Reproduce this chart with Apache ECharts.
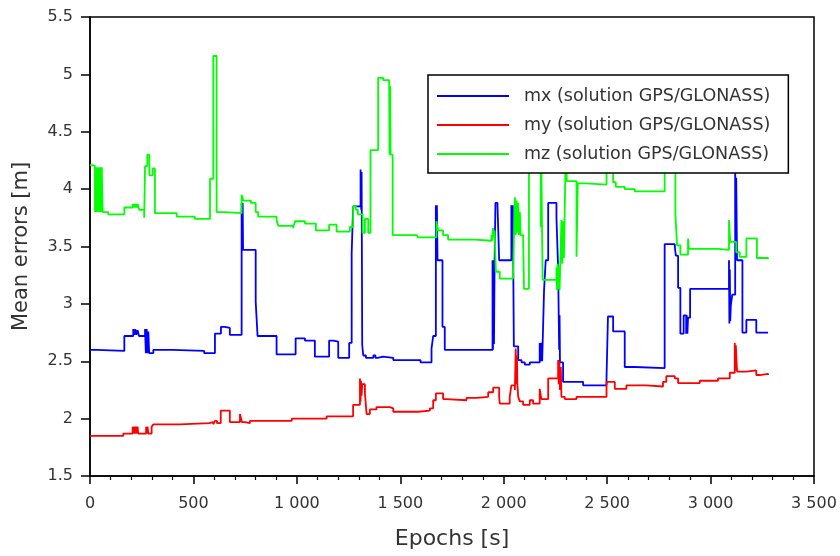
<!DOCTYPE html>
<html>
<head>
<meta charset="utf-8">
<title>Mean errors</title>
<script src="https://cdn.jsdelivr.net/npm/echarts@6/dist/echarts.min.js"></script>
<style>
  html, body { margin: 0; padding: 0; background: #fff; }
  #chart { width: 840px; height: 556px; }
</style>
</head>
<body>
<div id="chart"></div>
<script>
// Axis ranges: [min, max, step]
const epochAxis = [0, 3500, 500];
const errorAxis = [1.5, 5.5, 0.5];

const seriesNames = [
  'mx (solution GPS/GLONASS)',
  'my (solution GPS/GLONASS)',
  'mz (solution GPS/GLONASS)'
];

// Step change points: epoch [s] where the value changes, and the new value [m]
const mxEpochs = [0,32,166,209,214,219,224,230,237,266,270,274,278,282,286,306,398,552,604,633,652,676,733,736,738,740,801,810,902,994,1039,1087,1156,1176,1200,1253,1265,1272,1308,1311,1313,1316,1321,1334,1370,1380,1390,1417,1466,1598,1651,1659,1672,1675,1677,1680,1704,1715,1946,1948,1950,1953,1956,1960,1970,1978,2037,2041,2044,2049,2070,2086,2102,2126,2174,2178,2182,2186,2195,2203,2215,2255,2263,2268,2270,2272,2287,2384,2497,2504,2529,2585,2634,2778,2827,2832,2843,2854,2870,2882,2885,2888,2891,2901,3089,3091,3093,3095,3098,3105,3119,3122,3124,3128,3154,3173,3221,3278];
const mxValues = [2.60,2.59,2.72,2.78,2.73,2.78,2.73,2.77,2.72,2.78,2.57,2.78,2.57,2.76,2.57,2.60,2.59,2.57,2.74,2.80,2.79,2.73,3.88,3.50,3.88,3.47,3.02,2.72,2.56,2.70,2.68,2.54,2.68,2.67,2.53,2.66,3.44,3.85,4.17,3.82,4.15,2.64,2.55,2.53,2.55,2.53,2.54,2.53,2.51,2.49,2.61,2.72,3.86,3.50,3.86,3.38,2.80,2.60,3.38,2.60,3.38,2.65,3.38,3.88,3.85,3.38,3.86,3.40,3.86,2.63,2.51,2.49,2.47,2.49,2.66,2.50,2.66,2.50,3.12,3.38,3.88,3.75,3.31,2.60,2.90,2.49,2.32,2.29,2.36,2.89,2.76,2.45,2.44,3.52,3.50,3.42,3.14,2.74,2.90,2.74,2.90,2.74,2.88,3.13,3.38,2.83,3.30,2.85,2.99,3.08,4.15,3.60,4.10,3.38,2.75,2.86,2.75,2.75];

const myEpochs = [0,161,206,210,214,218,222,226,230,233,271,275,278,282,298,306,435,576,596,604,614,632,676,725,734,749,773,975,1144,1272,1305,1308,1310,1313,1316,1329,1337,1353,1385,1450,1466,1586,1643,1659,1672,1707,1724,1820,1869,1925,1949,1978,1981,2029,2037,2054,2058,2061,2064,2066,2070,2078,2094,2126,2142,2174,2182,2215,2263,2266,2269,2272,2276,2279,2295,2352,2497,2537,2593,2690,2770,2786,2827,2843,2948,3036,3093,3117,3120,3122,3128,3173,3221,3238,3278];
const myValues = [1.85,1.87,1.93,1.87,1.93,1.87,1.93,1.87,1.93,1.87,1.93,1.87,1.93,1.87,1.93,1.95,1.96,1.97,1.95,1.98,1.96,2.07,1.97,2.04,1.97,1.96,1.98,2.00,2.02,2.12,2.35,2.15,2.33,2.20,2.30,2.22,2.04,2.08,2.10,2.09,2.06,2.07,2.09,2.16,2.22,2.17,2.16,2.18,2.19,2.23,2.27,2.19,2.13,2.19,2.29,2.25,2.61,2.30,2.55,2.30,2.19,2.15,2.12,2.16,2.13,2.26,2.17,2.35,2.51,2.30,2.50,2.25,2.45,2.19,2.17,2.19,2.32,2.26,2.29,2.28,2.32,2.37,2.35,2.31,2.33,2.35,2.40,2.66,2.42,2.64,2.41,2.42,2.38,2.39,2.38];

const mzEpochs = [0,11,24,27,30,33,36,39,42,45,48,51,54,57,61,88,166,206,210,214,218,222,226,230,238,262,266,277,287,303,314,419,507,580,596,612,647,733,741,778,801,813,902,910,982,991,1039,1092,1156,1192,1256,1272,1285,1295,1318,1329,1345,1356,1393,1417,1446,1448,1451,1453,1463,1579,1585,1675,1683,1707,1731,1860,1941,1945,1948,1952,1956,1962,1981,2045,2054,2058,2062,2066,2070,2074,2078,2082,2094,2098,2122,2179,2181,2188,2255,2258,2261,2264,2267,2270,2279,2283,2287,2291,2300,2305,2352,2358,2400,2497,2529,2542,2585,2634,2778,2830,2838,2854,2891,2895,3036,3089,3095,3124,3141,3173,3224,3278];
const mzValues = [4.21,4.20,3.80,4.19,3.80,4.19,3.80,4.19,3.80,4.19,3.80,4.19,3.80,4.19,3.80,3.78,3.84,3.87,3.84,3.87,3.84,3.87,3.84,3.87,3.82,3.75,4.20,4.30,4.12,4.18,3.79,3.76,3.74,4.09,5.16,3.80,3.79,3.95,3.90,3.88,3.80,3.76,3.73,3.68,3.66,3.72,3.70,3.64,3.69,3.63,3.67,3.85,3.82,3.78,3.62,3.74,3.62,4.34,4.97,4.95,4.94,4.30,4.90,4.30,3.60,3.59,3.58,3.72,3.64,3.60,3.56,3.55,3.60,3.55,3.66,3.58,3.64,3.28,3.22,3.24,3.93,3.60,3.90,3.62,3.88,3.60,3.80,3.60,3.56,3.13,4.40,3.67,4.40,3.21,3.32,3.12,3.35,3.13,3.33,3.12,3.73,3.35,3.72,3.40,4.35,4.07,3.41,4.05,4.04,4.35,4.06,4.02,4.00,3.98,4.40,3.78,3.51,3.43,3.57,3.48,3.47,3.73,3.54,3.45,3.41,3.57,3.40,3.39];

const seriesColors = ['#0000ff', '#ff0000', '#00ff00'];

const FONT = 'DejaVu Sans';
const TEXT = '#333333';

function pairs(xs, ys) {
  return xs.map((x, i) => [x, ys[i]]);
}

function spaced(v) {
  return String(v).replace(/\B(?=(\d{3})+(?!\d))/g, ' ');
}

const seriesData = [
  pairs(mxEpochs, mxValues),
  pairs(myEpochs, myValues),
  pairs(mzEpochs, mzValues)
];

const chart = echarts.init(document.getElementById('chart'), null, { renderer: 'canvas' });

chart.setOption({
  animation: false,
  backgroundColor: '#ffffff',
  textStyle: { fontFamily: FONT },
  grid: {
    left: 90, right: 26, top: 17, bottom: 80,
    show: true, borderColor: '#000', borderWidth: 1.5, backgroundColor: 'transparent'
  },
  legend: {
    data: seriesNames.map((name, i) => ({ name: name, icon: 'rect', itemStyle: { color: seriesColors[i] } })),
    orient: 'vertical',
    left: 428,
    top: 75,
    backgroundColor: '#ffffff',
    borderColor: '#000',
    borderWidth: 1.5,
    borderRadius: 0,
    padding: [12, 18, 10, 9],
    itemWidth: 72,
    itemHeight: 2,
    itemGap: 11,
    selectedMode: false,
    textStyle: { fontFamily: FONT, fontSize: 17.5, color: TEXT, padding: [0, 0, 0, 10] }
  },
  xAxis: {
    type: 'value',
    min: epochAxis[0], max: epochAxis[1], interval: epochAxis[2],
    name: 'Epochs [s]',
    nameLocation: 'middle',
    nameGap: 52,
    nameTextStyle: { fontFamily: FONT, fontSize: 22, color: TEXT },
    axisLine: { show: true, onZero: false, lineStyle: { color: '#000', width: 1.5 } },
    axisTick: { show: true, length: 8, lineStyle: { color: '#000', width: 1.5 } },
    minorTick: { show: true, splitNumber: 5, length: 4, lineStyle: { color: '#000', width: 1.2 } },
    axisLabel: { fontFamily: FONT, fontSize: 16, color: TEXT, margin: 20, formatter: spaced },
    splitLine: { show: false }
  },
  yAxis: {
    type: 'value',
    min: errorAxis[0], max: errorAxis[1], interval: errorAxis[2],
    name: 'Mean errors [m]',
    nameLocation: 'middle',
    nameGap: 58,
    nameTextStyle: { fontFamily: FONT, fontSize: 21, color: TEXT },
    axisLine: { show: true, onZero: false, lineStyle: { color: '#000', width: 1.5 } },
    axisTick: { show: true, length: 9, lineStyle: { color: '#000', width: 1.5 } },
    axisLabel: { fontFamily: FONT, fontSize: 16, color: TEXT, margin: 17 },
    splitLine: { show: false }
  },
  series: seriesNames.map((name, i) => ({
    name: name,
    type: 'line',
    step: 'end',
    data: seriesData[i],
    symbol: 'none',
    showSymbol: false,
    color: seriesColors[i],
    lineStyle: { color: seriesColors[i], width: 1.8 },
    emphasis: { disabled: true }
  }))
});
</script>
</body>
</html>
